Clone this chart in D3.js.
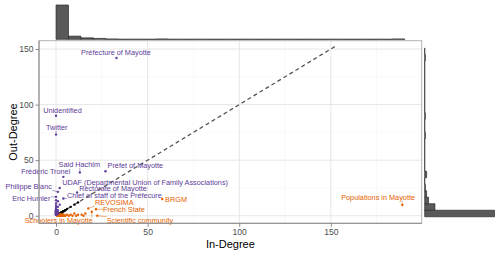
<!DOCTYPE html>
<html>
<head>
<meta charset="utf-8">
<script src="https://cdn.jsdelivr.net/npm/d3@7"></script>
<style>
  body { margin: 0; background: #fff; }
  text { font-family: "Liberation Sans", Arial, sans-serif; }
</style>
</head>
<body>
<div id="chart"></div>
<script>
// unlabelled nodes: [in-degree, out-degree, how many nodes]
const equalNodes = [[1,1,20],[2,2,8],[3,3,5],[4,4,3],[5,5,2],[6,6,1],[8,8,1],[10,10,1],[12,12,1]]
const inNodes = [[1,0,12],[2,0,6],[2,1,5],[3,0,4],[3,1,3],[4,0,2],[4,1,2],[5,0,2],[6,1,1],[7,0,1],
  [8,1,1],[9,0,1],[10,2,1],[11,0,1],[12,1,1],[14,1,1],[15,0,1],[16,2,1]]
const outNodes = [[0,1,8],[0,2,5],[0,3,4],[1,2,4],[1,3,2],[0,4,2],[0,5,2],[1,5,1],[0,6,1],[0,7,1],
  [1,8,1],[0,9,1],[2,10,1],[0,11,1],[1,13,1],[0,14,1]]

// labelled nodes
const labelNames = ["Préfecture of Mayotte","Unidentified","Twitter","Said Hachim","Préfet of Mayotte",
  "Frédéric Tronel","UDAF (Departmental Union of Family Associations)","Philippe Blanc",
  "Rectorate of Mayotte","Eric Humler","Chief of staff of the Préfecure","BRGM","REVOSIMA",
  "French State","Scientific community","Schoolers in Mayotte","Populations in Mayotte"]
const labelIn  = [33, 0, 0, 13, 27, 4, 2, 1, 11.5, 0, 4, 58, 17.6, 21.8, 22.5, 19.5, 189]
const labelOut = [142, 90, 73, 39, 40, 35, 25, 21.5, 21, 17, 15.5, 15, 6.6, 5.8, 0, 3.6, 9.6]
// where the repelled label text sits, in data units
const textIn  = [32.7, 3.5, 0.4, 12.7, 43.3, -5.6, 48.6, -14.9, 31.1, -13.5, 31.9, 65.5, 31.8, 37.1, 45.8, 1.5, 175.8]
const textOut = [147, 94.5, 79.6, 46.3, 45, 39.6, 30, 26.1, 24.3, 15.9, 18, 14.8, 12, 6, -3.9, -4.5, 16.2]

const xTicks = [0, 50, 100, 150]
const yTicks = [0, 50, 100, 150]
const xMinor = [25, 75, 125, 175]
const yMinor = [25, 75, 125]
const diagonalEnd = 153.5

const ancho = 500, alto = 255
const panel = {left: 39, right: 421.7, top: 40.7, bottom: 223.3}
const morado = "#5e3c99", naranja = "#e66101"

// flatten nodes
const nodos = []
const agregar = (lista) => lista.forEach(d => { for (let i = 0; i < d[2]; i++) nodos.push({inD: d[0], outD: d[1]}) })
agregar(equalNodes); agregar(inNodes); agregar(outNodes)
labelNames.forEach((n, i) => nodos.push({inD: labelIn[i], outD: labelOut[i], name: n}))
const colorDe = d => d.inD > d.outD ? naranja : (d.outD > d.inD ? morado : "#000")

const svg = d3.select("#chart").append("svg").attr("width", ancho).attr("height", alto)

const x = d3.scaleLinear().domain([-9.3, 199.6]).range([panel.left, panel.right])
const y = d3.scaleLinear().domain([-6.8, 157.5]).range([panel.bottom, panel.top])

// grid
const grid = svg.append("g")
grid.selectAll(".vmin").data(xMinor).enter().append("line")
  .attr("x1", d => x(d)).attr("x2", d => x(d)).attr("y1", panel.top).attr("y2", panel.bottom)
  .attr("stroke", "#f2f2f2").attr("stroke-width", 0.5)
grid.selectAll(".hmin").data(yMinor).enter().append("line")
  .attr("y1", d => y(d)).attr("y2", d => y(d)).attr("x1", panel.left).attr("x2", panel.right)
  .attr("stroke", "#f2f2f2").attr("stroke-width", 0.5)
grid.selectAll(".vmaj").data(xTicks).enter().append("line")
  .attr("x1", d => x(d)).attr("x2", d => x(d)).attr("y1", panel.top).attr("y2", panel.bottom)
  .attr("stroke", "#e6e6e6").attr("stroke-width", 1)
grid.selectAll(".hmaj").data(yTicks).enter().append("line")
  .attr("y1", d => y(d)).attr("y2", d => y(d)).attr("x1", panel.left).attr("x2", panel.right)
  .attr("stroke", "#e6e6e6").attr("stroke-width", 1)

// diagonal
svg.append("line")
  .attr("x1", x(0)).attr("y1", y(0)).attr("x2", x(diagonalEnd)).attr("y2", y(diagonalEnd))
  .attr("stroke", "#555").attr("stroke-width", 1.3).attr("stroke-dasharray", "4,3")

// points
svg.append("g").selectAll("circle").data(nodos).enter().append("circle")
  .attr("cx", d => x(d.inD)).attr("cy", d => y(d.outD)).attr("r", 1.2)
  .attr("fill", colorDe)

// labels + segments
const etiquetas = svg.append("g")
labelNames.forEach((n, i) => {
  const col = labelIn[i] > labelOut[i] ? naranja : morado
  const t = etiquetas.append("text")
    .attr("x", x(textIn[i])).attr("y", y(textOut[i])).attr("dy", "0.35em")
    .attr("text-anchor", "middle").attr("font-size", 7.3).attr("fill", col).text(n)
  const b = t.node().getBBox()
  const px = x(labelIn[i]), py = y(labelOut[i])
  const cx = Math.max(b.x, Math.min(px, b.x + b.width))
  const cy = Math.max(b.y + 1, Math.min(py, b.y + b.height - 1))
  if (Math.hypot(px - cx, py - cy) > 3.5) {
    etiquetas.append("line").attr("x1", cx).attr("y1", cy).attr("x2", px).attr("y2", py)
      .attr("stroke", col).attr("stroke-width", 0.5)
  }
})

// panel border
svg.append("rect").attr("x", panel.left).attr("y", panel.top)
  .attr("width", panel.right - panel.left).attr("height", panel.bottom - panel.top)
  .attr("fill", "none").attr("stroke", "#b3b3b3").attr("stroke-width", 1)
svg.append("path").attr("d", `M${panel.left},${panel.top}V${panel.bottom}H${panel.right}`)
  .attr("fill", "none").attr("stroke", "#8a8a8a").attr("stroke-width", 1)

// axes
const ejeX = svg.append("g").attr("transform", `translate(0,${panel.bottom})`)
  .call(d3.axisBottom(x).tickValues(xTicks).tickSize(3.5).tickPadding(2))
const ejeY = svg.append("g").attr("transform", `translate(${panel.left},0)`)
  .call(d3.axisLeft(y).tickValues(yTicks).tickSize(3.5).tickPadding(2))
;[ejeX, ejeY].forEach(g => {
  g.select(".domain").remove()
  g.selectAll("line").attr("stroke", "#8a8a8a")
  g.selectAll("text").attr("fill", "#4d4d4d").attr("font-size", 8.6)
    .style("font-family", "Liberation Sans, Arial, sans-serif")
})

svg.append("text").attr("x", (panel.left + panel.right) / 2).attr("y", 248)
  .attr("text-anchor", "middle").attr("font-size", 11).text("In-Degree")
svg.append("text").attr("transform", `translate(17,${(panel.top + panel.bottom) / 2}) rotate(-90)`)
  .attr("text-anchor", "middle").attr("font-size", 11).text("Out-Degree")

// marginal histograms (drawn as paths so empty bins still show as a line)
const binsIn = d3.bin().value(d => d.inD).domain([0, 190.4]).thresholds(d3.range(0, 190.4, 6.8))(nodos)
const binsOut = d3.bin().value(d => d.outD).domain([-0.9, 151]).thresholds(d3.range(-0.9, 151, 5.85))(nodos)

const baseTop = 39.3, baseRight = 424.7
const yTop = d3.scaleLinear().domain([0, d3.max(binsIn, b => b.length)]).range([baseTop, 5])
svg.append("g").selectAll("path").data(binsIn).enter().append("path")
  .attr("d", b => `M${x(b.x0)},${baseTop}V${yTop(b.length)}H${x(b.x1)}V${baseTop}Z`)
  .attr("fill", "#595959").attr("stroke", "#2b2b2b").attr("stroke-width", 0.7)

const xRight = d3.scaleLinear().domain([0, d3.max(binsOut, b => b.length)]).range([baseRight, 494.5])
svg.append("g").selectAll("path").data(binsOut).enter().append("path")
  .attr("d", b => `M${baseRight},${y(b.x0)}H${xRight(b.length)}V${y(b.x1)}H${baseRight}Z`)
  .attr("fill", "#595959").attr("stroke", "#2b2b2b").attr("stroke-width", 0.7)
</script>
</body>
</html>
